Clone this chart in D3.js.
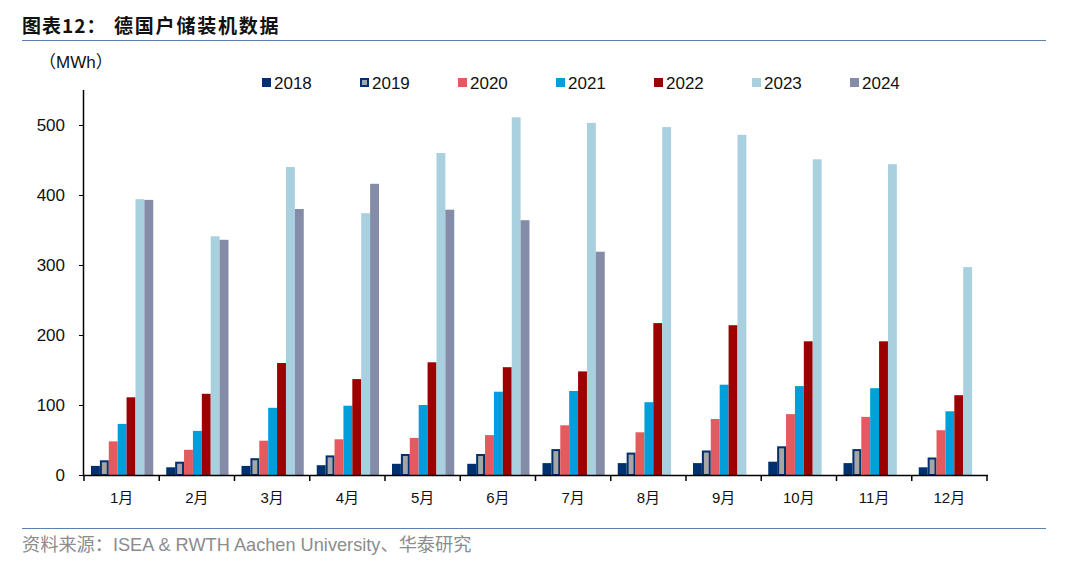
<!DOCTYPE html>
<html><head><meta charset="utf-8">
<script src="https://cdn.jsdelivr.net/npm/d3@7"></script>
<style>
body{margin:0;background:#fff;}
svg{display:block;}
</style></head>
<body>
<svg id="chart" width="1066" height="570"></svg>
<script>
const months = ["1月","2月","3月","4月","5月","6月","7月","8月","9月","10月","11月","12月"];
const years = ["2018","2019","2020","2021","2022","2023","2024"];
const v2018 = [13,11,13,14,16,16,17,17,17,19,17,11];
const v2019 = [21,19,24,28,30,30,37,32,35,41,37,25];
const v2020 = [48,36,49,51,53,57,71,61,80,87,83,64];
const v2021 = [73,63,96,99,100,119,120,104,129,127,124,91];
const v2022 = [111,116,160,137,161,154,148,217,214,191,191,114];
const v2023 = [394,341,440,374,460,511,503,497,486,451,444,297];
const v2024 = [393,336,380,416,379,364,319,null,null,null,null,null];
const yTicks = [0,100,200,300,400,500];
const seriesValues = [v2018,v2019,v2020,v2021,v2022,v2023,v2024];
const colors = ["#00306e","#a6a6a6","#e35b5e","#009fdb","#9c0000","#a9d0df","#858ca7"];

const svg = d3.select("#chart");
const pL = 84, pR = 987, pT = 90, pB = 475;

const x0 = d3.scaleBand().domain(months).range([pL,pR]).padding(0);
const x1 = d3.scaleBand().domain(years).range([7, x0.bandwidth()-6]).padding(0);
const y = d3.scaleLinear().domain([0,550]).range([pB,pT]);

// title
const title = svg.append("text").attr("x",22).attr("y",33)
  .attr("font-family","'Noto Sans CJK SC', sans-serif").attr("font-weight","bold")
  .attr("font-size",19).attr("fill","#111");
title.append("tspan").attr("letter-spacing",1).text("图表12：");
title.append("tspan").attr("x",114).attr("letter-spacing",1.8).text("德国户储装机数据");
svg.append("line").attr("x1",22).attr("x2",1046).attr("y1",40.5).attr("y2",40.5)
  .attr("stroke","#5a82b0").attr("stroke-width",1.2);
svg.append("line").attr("x1",22).attr("x2",1046).attr("y1",528.5).attr("y2",528.5)
  .attr("stroke","#5a82b0").attr("stroke-width",1.2);
svg.append("text").attr("x",22).attr("y",551)
  .attr("font-family","'Liberation Sans', 'Noto Sans CJK SC', sans-serif")
  .attr("font-size",18.2).attr("fill","#8c8c8c")
  .text("资料来源：ISEA & RWTH Aachen University、华泰研究");

// unit
svg.append("text").attr("x",39).attr("y",68)
  .attr("font-family","'Liberation Sans', 'Noto Sans CJK SC', sans-serif")
  .attr("font-size",17).attr("fill","#111").text("（MWh）");

// legend
const lg = svg.append("g");
years.forEach((yr,i)=>{
  const gx = 262 + i*98;
  const g = lg.append("g").attr("transform",`translate(${gx},78)`);
  if(i===1){
    g.append("rect").attr("x",1).attr("y",1).attr("width",7).attr("height",7)
      .attr("fill",colors[i]).attr("stroke","#00306e").attr("stroke-width",2);
  } else {
    g.append("rect").attr("x",0).attr("y",0).attr("width",9).attr("height",9).attr("fill",colors[i]);
  }
  g.append("text").attr("x",12).attr("y",11)
    .attr("font-family","'Liberation Sans', Arial, sans-serif").attr("font-size",17)
    .attr("fill","#111").text(yr);
});

// bars
const groups = svg.append("g").selectAll("g").data(months).join("g")
  .attr("transform",d=>`translate(${x0(d)},0)`);
groups.selectAll("rect").data((m,mi)=>years.map((yr,si)=>({yr,si,v:seriesValues[si][mi]})).filter(d=>d.v!=null))
  .join("rect")
  .attr("x",d=> d.si===1 ? x1(d.yr)+1 : x1(d.yr))
  .attr("y",d=> d.si===1 ? y(d.v)+1 : y(d.v))
  .attr("width",d=> d.si===1 ? x1.bandwidth()-2 : x1.bandwidth())
  .attr("height",d=> d.si===1 ? Math.max(0,y(0)-y(d.v)-1) : y(0)-y(d.v))
  .attr("fill",d=>colors[d.si])
  .attr("stroke",d=> d.si===1 ? "#00306e" : "none")
  .attr("stroke-width",2);

// y axis
const yAxis = svg.append("g").attr("transform",`translate(${pL},0)`)
  .call(d3.axisLeft(y).tickValues(yTicks).tickSize(5).tickPadding(14));
yAxis.select(".domain").attr("d",`M-0.5,${pT}V${pB}`).attr("stroke","#000").attr("stroke-width",1.5);
yAxis.selectAll(".tick line").attr("stroke","#000");
yAxis.selectAll("text").attr("font-family","'Liberation Sans', Arial, sans-serif")
  .attr("font-size",17).attr("fill","#111");

// x axis
const xa = svg.append("g").attr("transform",`translate(0,${pB})`);
xa.append("line").attr("x1",pL-1).attr("x2",pR+1).attr("y1",0.5).attr("y2",0.5)
  .attr("stroke","#000").attr("stroke-width",1.5);
const bounds = months.map(m=>x0(m)).concat([x0(months[months.length-1])+x0.bandwidth()]);
xa.selectAll("line.tk").data(bounds).join("line").attr("class","tk")
  .attr("x1",d=>d).attr("x2",d=>d).attr("y1",0).attr("y2",6).attr("stroke","#000").attr("stroke-width",1.5);
xa.selectAll("text").data(months).join("text")
  .attr("x",d=>x0(d)+x0.bandwidth()/2).attr("y",28)
  .attr("text-anchor","middle")
  .attr("font-family","'Liberation Sans', 'Noto Sans CJK SC', sans-serif")
  .attr("font-size",15).attr("fill","#111").text(d=>d);
</script>
</body></html>
